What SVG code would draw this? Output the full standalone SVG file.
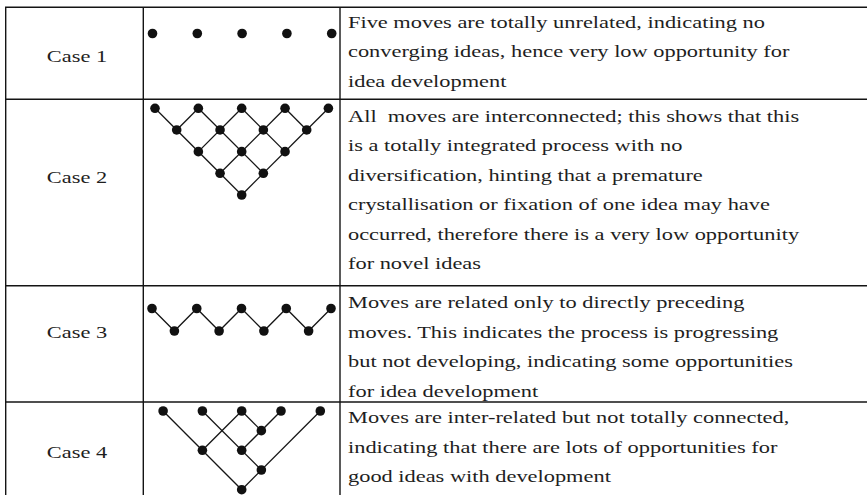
<svg xmlns="http://www.w3.org/2000/svg" width="867" height="495" viewBox="0 0 867 495">
<style>
.grid{stroke:#141414;stroke-width:1.4;fill:none}
.lbl{font-family:"Liberation Serif","Times New Roman",serif;font-size:17.5px;fill:#1e1e1e;text-anchor:middle}
.txt{font-family:"Liberation Serif","Times New Roman",serif;font-size:17.5px;fill:#1e1e1e}
.edge{stroke:#151515;stroke-width:1.3;fill:none}
.dot{fill:#111}
</style>
<defs>
<circle id="d" r="4.8" class="dot"/>
</defs>
<rect width="867" height="495" fill="#fff"/>
<g id="table">
<line class="grid" x1="5" y1="7.3" x2="867" y2="7.3"/>
<line class="grid" x1="5" y1="99.3" x2="867" y2="99.3"/>
<line class="grid" x1="5" y1="285.7" x2="867" y2="285.7"/>
<line class="grid" x1="5" y1="402" x2="867" y2="402"/>
<line class="grid" x1="5.7" y1="7" x2="5.7" y2="495"/>
<line class="grid" x1="143.3" y1="7" x2="143.3" y2="495"/>
<line class="grid" x1="340" y1="7" x2="340" y2="495"/>
</g>
<g id="case1">
<text class="lbl" transform="matrix(1.28 0 0 1 77 62.3)">Case 1</text>
<text class="txt" transform="matrix(1.28 0 0 1 348 27.7)">Five moves are totally unrelated, indicating no</text>
<text class="txt" transform="matrix(1.28 0 0 1 348 57.2)">converging ideas, hence very low opportunity for</text>
<text class="txt" transform="matrix(1.28 0 0 1 348 86.7)">idea development</text>
<g id="case1-nodes">
<use href="#d" x="152.5" y="33.5"/><use href="#d" x="197.3" y="33.5"/><use href="#d" x="242.1" y="33.5"/><use href="#d" x="286.9" y="33.5"/><use href="#d" x="331.7" y="33.5"/>
</g>
</g>
<g id="case2">
<text class="lbl" transform="matrix(1.28 0 0 1 77 183.3)">Case 2</text>
<text class="txt" xml:space="preserve" transform="matrix(1.28 0 0 1 348 121.7)">All  moves are interconnected; this shows that this</text>
<text class="txt" transform="matrix(1.28 0 0 1 348 151.2)">is a totally integrated process with no</text>
<text class="txt" transform="matrix(1.28 0 0 1 348 180.6)">diversification, hinting that a premature</text>
<text class="txt" transform="matrix(1.28 0 0 1 348 210.1)">crystallisation or fixation of one idea may have</text>
<text class="txt" transform="matrix(1.28 0 0 1 348 239.5)">occurred, therefore there is a very low opportunity</text>
<text class="txt" transform="matrix(1.28 0 0 1 348 269)">for novel ideas</text>
<g id="case2-connectors">
<line class="edge" x1="155" y1="108.3" x2="241.7" y2="195"/>
<line class="edge" x1="198.35" y1="108.3" x2="263.35" y2="173.3"/>
<line class="edge" x1="241.7" y1="108.3" x2="285.05" y2="151.65"/>
<line class="edge" x1="285.05" y1="108.3" x2="306.7" y2="129.95"/>
<line class="edge" x1="328.4" y1="108.3" x2="241.7" y2="195"/>
<line class="edge" x1="285.05" y1="108.3" x2="220.05" y2="173.3"/>
<line class="edge" x1="241.7" y1="108.3" x2="198.35" y2="151.65"/>
<line class="edge" x1="198.35" y1="108.3" x2="176.7" y2="129.95"/>
</g>
<g id="case2-nodes">
<use href="#d" x="155" y="108.3"/><use href="#d" x="198.35" y="108.3"/><use href="#d" x="241.7" y="108.3"/><use href="#d" x="285.05" y="108.3"/><use href="#d" x="328.4" y="108.3"/>
<use href="#d" x="176.7" y="129.95"/><use href="#d" x="220.05" y="129.95"/><use href="#d" x="263.35" y="129.95"/><use href="#d" x="306.7" y="129.95"/>
<use href="#d" x="198.35" y="151.65"/><use href="#d" x="241.7" y="151.65"/><use href="#d" x="285.05" y="151.65"/>
<use href="#d" x="220.05" y="173.3"/><use href="#d" x="263.35" y="173.3"/>
<use href="#d" x="241.7" y="195"/>
</g>
</g>
<g id="case3">
<text class="lbl" transform="matrix(1.28 0 0 1 77 338)">Case 3</text>
<text class="txt" transform="matrix(1.28 0 0 1 348 308.3)">Moves are related only to directly preceding</text>
<text class="txt" transform="matrix(1.28 0 0 1 348 337.8)">moves. This indicates the process is progressing</text>
<text class="txt" transform="matrix(1.28 0 0 1 348 367.3)">but not developing, indicating some opportunities</text>
<text class="txt" transform="matrix(1.28 0 0 1 348 396.7)">for idea development</text>
<g id="case3-connectors">
<polyline class="edge" points="152,308.5 174.4,331 196.75,308.5 219.1,331 241.5,308.5 263.9,331 286.25,308.5 308.6,331 331,308.5"/>
</g>
<g id="case3-nodes">
<use href="#d" x="152" y="308.5"/><use href="#d" x="196.75" y="308.5"/><use href="#d" x="241.5" y="308.5"/><use href="#d" x="286.25" y="308.5"/><use href="#d" x="331" y="308.5"/>
<use href="#d" x="174.4" y="331"/><use href="#d" x="219.1" y="331"/><use href="#d" x="263.9" y="331"/><use href="#d" x="308.6" y="331"/>
</g>
</g>
<g id="case4">
<text class="lbl" transform="matrix(1.28 0 0 1 77 458)">Case 4</text>
<text class="txt" transform="matrix(1.28 0 0 1 348 423.3)">Moves are inter-related but not totally connected,</text>
<text class="txt" transform="matrix(1.28 0 0 1 348 452.8)">indicating that there are lots of opportunities for</text>
<text class="txt" transform="matrix(1.28 0 0 1 348 482.3)">good ideas with development</text>
<g id="case4-connectors">
<line class="edge" x1="163.1" y1="411" x2="241.7" y2="489.7"/>
<line class="edge" x1="202.4" y1="411" x2="261.35" y2="470"/>
<line class="edge" x1="241.7" y1="411" x2="202.4" y2="450.3"/>
<line class="edge" x1="241.7" y1="411" x2="261.35" y2="430.65"/>
<line class="edge" x1="281" y1="411" x2="241.7" y2="450.3"/>
<line class="edge" x1="320.3" y1="411" x2="241.7" y2="489.7"/>
</g>
<g id="case4-nodes">
<use href="#d" x="163.1" y="411"/><use href="#d" x="202.4" y="411"/><use href="#d" x="241.7" y="411"/><use href="#d" x="281" y="411"/><use href="#d" x="320.3" y="411"/>
<use href="#d" x="261.35" y="430.65"/><use href="#d" x="202.4" y="450.3"/><use href="#d" x="241.7" y="450.3"/><use href="#d" x="261.35" y="470"/><use href="#d" x="241.7" y="489.7"/>
</g>
</g>
</svg>
